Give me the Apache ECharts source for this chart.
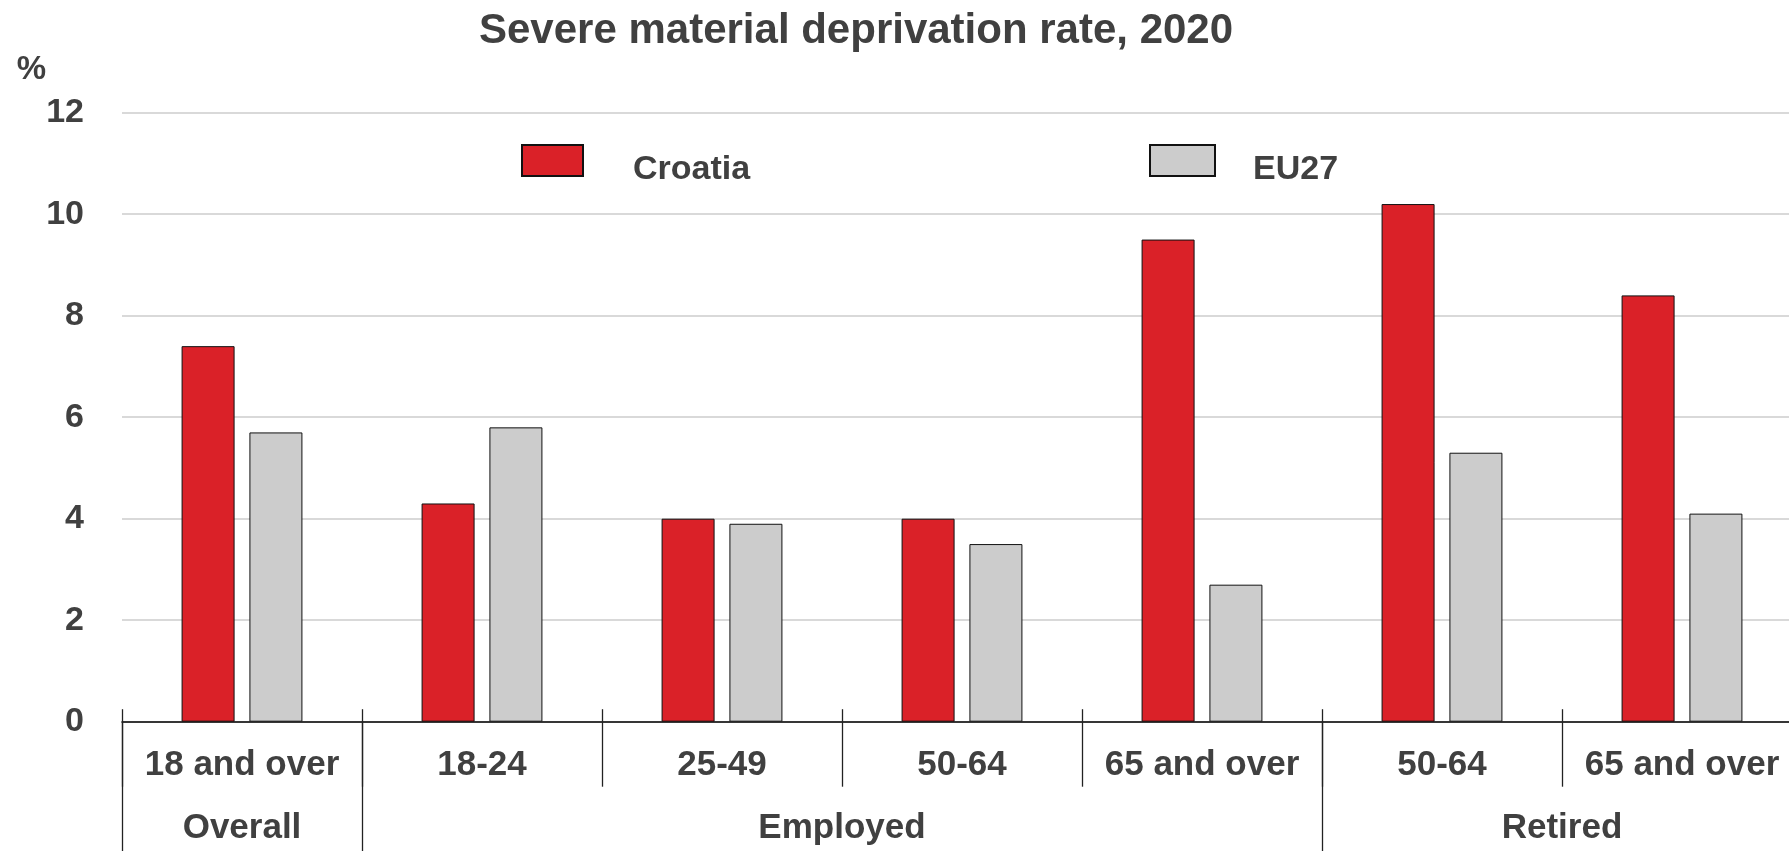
<!DOCTYPE html>
<html><head><meta charset="utf-8">
<script src="https://cdn.jsdelivr.net/npm/echarts@6/dist/echarts.min.js"></script>
<style>html,body{margin:0;padding:0;background:#fff}#c{width:1789px;height:851px}</style>
</head><body><div id="c"></div>
<script>
const categories = ['18 and over', '18-24', '25-49', '50-64', '65 and over', '50-64', '65 and over'];
const croatia = [7.4, 4.3, 4.0, 4.0, 9.5, 10.2, 8.4];
const eu27 = [5.7, 5.8, 3.9, 3.5, 2.7, 5.3, 4.1];
const groupNames = ['Overall', 'Employed', 'Retired'];
const groupSpans = [1, 4, 2];
const seriesNames = ['Croatia', 'EU27'];

const FONT = '"Liberation Sans Narrow","Arial Narrow","Liberation Sans",Arial,sans-serif';
const TEXT = '#404040';

// half-category slots for the group row
const nSlots = categories.length * 2 + 1;
const slotIds = [];
for (let i = 0; i < nSlots; i++) slotIds.push('s' + i);
const slotLabel = {}, slotTick = {0: true};
let pos = 0;
groupSpans.forEach((s, i) => { slotLabel[pos + s] = groupNames[i]; pos += 2 * s; slotTick[pos] = true; });

function legendText(padLeft) {
  return {
    formatter: '{t|{name}}',
    textStyle: {
      fontFamily: FONT, fontWeight: 'bold', fontSize: 34, color: TEXT,
      rich: {t: {fontFamily: FONT, fontWeight: 'bold', fontSize: 34, color: TEXT, padding: [18, 0, 0, padLeft]}}
    }
  };
}

const chart = echarts.init(document.getElementById('c'));
chart.setOption({
  animation: false,
  backgroundColor: '#fff',
  title: {
    text: 'Severe material deprivation rate, 2020',
    left: 474, top: 5,
    textStyle: {fontFamily: FONT, fontWeight: 'bold', fontSize: 42, color: TEXT}
  },
  legend: [
    Object.assign({data: [seriesNames[0]], icon: 'rect', left: 521, top: 144, padding: 0, itemWidth: 61, itemHeight: 31}, legendText(45)),
    Object.assign({data: [seriesNames[1]], icon: 'rect', left: 1149, top: 144, padding: 0, itemWidth: 65, itemHeight: 31}, legendText(33))
  ],
  grid: {left: 122, top: 112.7, width: 1680, height: 609, containLabel: false, outerBoundsMode: 'none'},
  xAxis: [
    {type: 'category', data: categories, position: 'bottom',
     axisLine: {lineStyle: {color: '#000', width: 1.5}},
     axisTick: {show: true, interval: 0, length: 65, lineStyle: {color: '#222', width: 1.3}},
     axisLabel: {interval: 0, margin: 26, fontFamily: FONT, fontWeight: 'bold', fontSize: 35, color: TEXT},
     splitLine: {show: false}},
    {type: 'category', data: categories, position: 'bottom',
     axisLine: {show: false},
     axisTick: {show: true, inside: true, interval: 0, length: 12.5, lineStyle: {color: '#222', width: 1.3}},
     axisLabel: {show: false}, splitLine: {show: false}},
    {type: 'category', data: slotIds, position: 'bottom', boundaryGap: false,
     axisLine: {show: false},
     axisTick: {show: true, length: 135, interval: (i) => !!slotTick[i], lineStyle: {color: '#222', width: 1.3}},
     axisLabel: {margin: 89, interval: (i) => !!slotLabel[i], formatter: (v, i) => slotLabel[i] || '',
       fontFamily: FONT, fontWeight: 'bold', fontSize: 35, color: TEXT},
     splitLine: {show: false}}
  ],
  yAxis: {
    type: 'value', min: 0, max: 12, interval: 2,
    name: '%', nameLocation: 'end', nameGap: 26,
    nameTextStyle: {fontFamily: FONT, fontWeight: 'bold', fontSize: 33, color: TEXT, align: 'right', padding: [0, 76, 0, 0]},
    axisLine: {show: false}, axisTick: {show: false},
    axisLabel: {margin: 38, fontFamily: FONT, fontWeight: 'bold', fontSize: 34, color: TEXT},
    splitLine: {lineStyle: {color: '#cccccc', width: 1.5}}
  },
  series: [
    {name: seriesNames[0], type: 'bar', data: croatia, barWidth: 53, barGap: '28%',
     itemStyle: {color: '#DA2128', borderColor: '#111', borderWidth: 1}},
    {name: seriesNames[1], type: 'bar', data: eu27, barWidth: 53, barGap: '28%',
     itemStyle: {color: '#CCCCCC', borderColor: '#111', borderWidth: 1}}
  ]
});
</script></body></html>
